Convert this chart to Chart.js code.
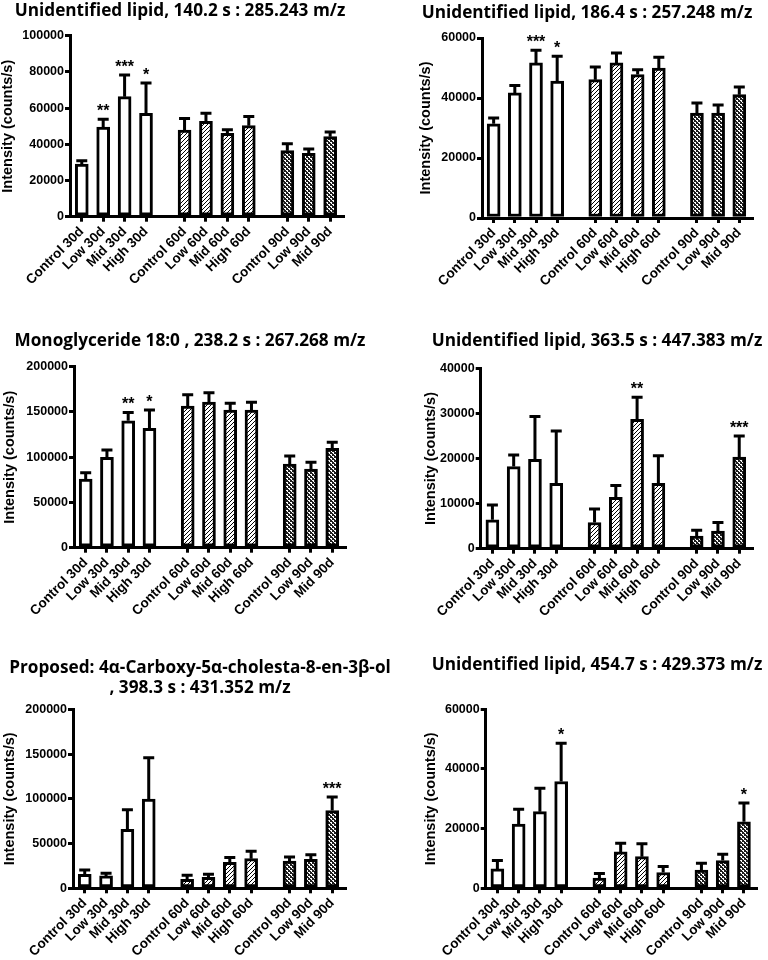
<!DOCTYPE html>
<html>
<head>
<meta charset="utf-8">
<script src="https://cdn.jsdelivr.net/npm/chart.js@4.4.0/dist/chart.umd.min.js"></script>
<style>
  html, body { margin: 0; padding: 0; background: #fff; overflow: hidden; }
  #wrap { position: relative; width: 768px; height: 960px; }
  canvas { position: absolute; }
</style>
</head>
<body>
<div id="wrap">
  <canvas id="p1"></canvas>
  <canvas id="p2"></canvas>
  <canvas id="p3"></canvas>
  <canvas id="p4"></canvas>
  <canvas id="p5"></canvas>
  <canvas id="p6"></canvas>
</div>
<script>
// groups: 30d (open), 60d (hatched), 90d (dotted)
const categories = ["Control 30d", "Low 30d", "Mid 30d", "High 30d",
  "Control 60d", "Low 60d", "Mid 60d", "High 60d",
  "Control 90d", "Low 90d", "Mid 90d"];
const groupOf = [0, 0, 0, 0, 1, 1, 1, 1, 2, 2, 2];

// panel 1
const title1 = ["Unidentified lipid, 140.2 s : 285.243 m/z"];
const yTicks1 = [0, 20000, 40000, 60000, 80000, 100000];
const mean1 = [29100, 49500, 66300, 57100, 47900, 52700, 46000, 50300, 36500, 35000, 44200];
const upper1 = [30900, 53800, 78300, 73800, 54300, 57100, 48100, 55400, 40300, 37400, 46800];
const stars1 = ["", "**", "***", "*", "", "", "", "", "", "", ""];

// panel 2
const title2 = ["Unidentified lipid, 186.4 s : 257.248 m/z"];
const yTicks2 = [0, 20000, 40000, 60000];
const mean2 = [31400, 41700, 51700, 45600, 46100, 51700, 47800, 50000, 35000, 35000, 41100];
const upper2 = [33300, 44200, 55900, 53900, 50300, 55000, 49400, 53600, 38300, 37700, 43700];
const stars2 = ["", "", "***", "*", "", "", "", "", "", "", ""];

// panel 3
const title3 = ["Monoglyceride 18:0 , 238.2 s : 267.268 m/z"];
const yTicks3 = [0, 50000, 100000, 150000, 200000];
const mean3 = [75900, 99800, 140300, 131900, 156500, 161000, 152100, 152100, 92400, 86900, 109800];
const upper3 = [82900, 107900, 149500, 152100, 169000, 171300, 159500, 160600, 101300, 94300, 116400];
const stars3 = ["", "", "**", "*", "", "", "", "", "", "", ""];

// panel 4
const title4 = ["Unidentified lipid, 363.5 s : 447.383 m/z"];
const yTicks4 = [0, 10000, 20000, 30000, 40000];
const mean4 = [6400, 18200, 19800, 14500, 5800, 11400, 28700, 14500, 2800, 3900, 20300];
const upper4 = [9700, 20800, 29300, 26100, 8800, 14000, 33600, 20600, 4100, 5800, 25000];
const stars4 = ["", "", "", "", "", "", "**", "", "", "", "***"];

// panel 5
const title5 = ["Proposed: 4\u03b1-Carboxy-5\u03b1-cholesta-8-en-3\u03b2-ol", ", 398.3 s : 431.352 m/z"];
const yTicks5 = [0, 50000, 100000, 150000, 200000];
const mean5 = [15600, 13800, 65900, 99800, 10000, 12300, 29000, 33100, 30500, 32400, 86800];
const upper5 = [20500, 16800, 87900, 146000, 14500, 15600, 34300, 41300, 35000, 37600, 102000];
const stars5 = ["", "", "", "", "", "", "", "", "", "", "***"];

// panel 6
const title6 = ["Unidentified lipid, 454.7 s : 429.373 m/z"];
const yTicks6 = [0, 20000, 40000, 60000];
const mean6 = [6500, 21500, 25700, 35800, 3400, 12200, 10600, 5300, 6100, 9300, 22300];
const upper6 = [9300, 26500, 33500, 48600, 5000, 15100, 14900, 7300, 8400, 11400, 28600];
const stars6 = ["", "", "", "*", "", "", "", "", "", "", "*"];

const GROUP_GAP = 0.8;
const X_MIN = -0.55, X_MAX = 12.2;
const Y_TITLE_SIZE = 14.5;
const xTickFont = { family: "'Liberation Sans', Arial, sans-serif", size: 13.5, weight: "bold" };
const yTickFont = { family: "'Liberation Sans', Arial, sans-serif", size: 12.5, weight: "bold" };

function xPos(i) {
  return i + groupOf[i] * GROUP_GAP;
}

function hatch(ctx) {
  const t = document.createElement("canvas");
  t.width = 4; t.height = 4;
  const g = t.getContext("2d");
  g.fillStyle = "#fff";
  g.fillRect(0, 0, 4, 4);
  g.strokeStyle = "#000";
  g.lineWidth = 1;
  g.beginPath();
  g.moveTo(-1, 5); g.lineTo(5, -1);
  g.moveTo(-1, 1); g.lineTo(1, -1);
  g.moveTo(3, 5); g.lineTo(5, 3);
  g.stroke();
  return ctx.createPattern(t, "repeat");
}

function dots(ctx) {
  const t = document.createElement("canvas");
  t.width = 4; t.height = 4;
  const g = t.getContext("2d");
  g.fillStyle = "#1e1e1e";
  g.fillRect(0, 0, 4, 4);
  g.fillStyle = "#fff";
  g.fillRect(0, 0, 2, 1);
  g.fillRect(2, 2, 2, 1);
  g.fillRect(1, 1, 1, 1);
  g.fillRect(3, 3, 1, 1);
  return ctx.createPattern(t, "repeat");
}

// title drawn at a fixed spot over each panel
const panelTitle = {
  id: "panelTitle",
  afterDraw(chart, args, opts) {
    const ctx = chart.ctx;
    ctx.save();
    ctx.font = "bold 17.2px 'Open Sans', sans-serif";
    ctx.fillStyle = "#000";
    ctx.textAlign = "center";
    ctx.textBaseline = "middle";
    opts.lines.forEach((t, k) => ctx.fillText(t, opts.x, opts.y + k * 20));
    ctx.restore();
  }
};

// upper SEM bars plus significance stars
const errorBars = {
  id: "errorBars",
  afterDatasetsDraw(chart, args, opts) {
    const ctx = chart.ctx;
    const y = chart.scales.y;
    const meta = chart.getDatasetMeta(0);
    ctx.save();
    ctx.strokeStyle = "#000";
    ctx.lineWidth = 3;
    ctx.fillStyle = "#000";
    ctx.font = "bold 16px 'Liberation Sans', Arial, sans-serif";
    ctx.textAlign = "center";
    ctx.textBaseline = "alphabetic";
    meta.data.forEach((bar, i) => {
      const top = y.getPixelForValue(opts.upper[i]);
      ctx.beginPath();
      ctx.moveTo(bar.x, bar.y);
      ctx.lineTo(bar.x, top);
      ctx.moveTo(bar.x - 5.5, top);
      ctx.lineTo(bar.x + 5.5, top);
      ctx.stroke();
      if (opts.stars[i]) ctx.fillText(opts.stars[i], bar.x, top - 3);
    });
    ctx.restore();
  }
};

function makeChart(id, lay, titleLines, means, upper, stars, yTicks) {
  const canvas = document.getElementById(id);
  canvas.width = lay.width;
  canvas.height = lay.height;
  canvas.style.left = lay.left + "px";
  canvas.style.top = lay.top + "px";
  const ctx = canvas.getContext("2d");

  const fills = [ "#fff", hatch(ctx), dots(ctx) ];
  const yScaleLeft = lay.yTitleX - Y_TITLE_SIZE / 2;

  new Chart(ctx, {
    type: "bar",
    data: {
      datasets: [
        {
          data: means.map((v, i) => ({ x: xPos(i), y: v })),
          backgroundColor: groupOf.map((g) => fills[g]),
          borderColor: "#000",
          borderWidth: 3,
          borderSkipped: false,
          barThickness: 13,
        },
      ],
    },
    options: {
      responsive: false,
      animation: false,
      events: [],
      layout: {
        padding: {
          left: yScaleLeft - lay.left,
          right: lay.left + lay.width - lay.axisEnd,
          top: lay.topY - lay.top,
          bottom: 0,
        },
      },
      plugins: {
        legend: { display: false },
        tooltip: { enabled: false },
        panelTitle: { lines: titleLines, x: lay.titleX - lay.left, y: lay.titleY - lay.top },
        errorBars: { upper: upper, stars: stars },
      },
      scales: {
        x: {
          type: "linear",
          min: X_MIN,
          max: X_MAX,
          bounds: "data",
          offset: false,
          afterBuildTicks: (s) => {
            s.ticks = categories.map((c, i) => ({ value: xPos(i) }));
          },
          afterFit: (s) => {
            s.height = lay.top + lay.height - lay.zeroY;
          },
          ticks: {
            autoSkip: false,
            minRotation: 45,
            maxRotation: 45,
            padding: 2,
            color: "#000",
            font: xTickFont,
            callback: (v, i) => categories[i],
          },
          grid: { drawOnChartArea: false, drawTicks: true, tickLength: 5, color: "#000", lineWidth: 3, offset: false },
          border: { display: true, color: "#000", width: 3 },
        },
        y: {
          min: yTicks[0],
          max: yTicks[yTicks.length - 1],
          afterFit: (s) => {
            s.width = lay.axisX - yScaleLeft;
          },
          ticks: {
            stepSize: yTicks[1] - yTicks[0],
            padding: 1,
            color: "#000",
            font: yTickFont,
            callback: (v) => String(v),
          },
          grid: { drawOnChartArea: false, drawTicks: true, tickLength: 5, color: "#000", lineWidth: 3 },
          border: { display: true, color: "#000", width: 3 },
          title: {
            display: true,
            text: "Intensity (counts/s)",
            color: "#000",
            padding: 0,
            font: { family: "'Liberation Sans', Arial, sans-serif", size: Y_TITLE_SIZE, weight: "bold", lineHeight: 1 },
          },
        },
      },
    },
    plugins: [panelTitle, errorBars],
  });
}

makeChart("p1", { left: 0, top: 0, width: 384, height: 320, titleX: 180, titleY: 11, yTitleX: 8, axisX: 70, axisEnd: 343, topY: 35.7, zeroY: 216.7 },
  title1, mean1, upper1, stars1, yTicks1);
makeChart("p2", { left: 384, top: 0, width: 384, height: 320, titleX: 587, titleY: 13, yTitleX: 426, axisX: 482, axisEnd: 752, topY: 38, zeroY: 218 },
  title2, mean2, upper2, stars2, yTicks2);
makeChart("p3", { left: 0, top: 320, width: 384, height: 320, titleX: 190, titleY: 341, yTitleX: 10, axisX: 74, axisEnd: 345, topY: 366.7, zeroY: 547.7 },
  title3, mean3, upper3, stars3, yTicks3);
makeChart("p4", { left: 384, top: 320, width: 384, height: 320, titleX: 597, titleY: 341, yTitleX: 430.7, axisX: 480.7, axisEnd: 752, topY: 368.3, zeroY: 548.7 },
  title4, mean4, upper4, stars4, yTicks4);
makeChart("p5", { left: 0, top: 640, width: 420, height: 320, titleX: 200, titleY: 668, yTitleX: 10, axisX: 73, axisEnd: 345, topY: 709.3, zeroY: 888.3 },
  title5, mean5, upper5, stars5, yTicks5);
makeChart("p6", { left: 384, top: 640, width: 384, height: 320, titleX: 597, titleY: 665, yTitleX: 430.7, axisX: 485.7, axisEnd: 756.7, topY: 709.3, zeroY: 888.3 },
  title6, mean6, upper6, stars6, yTicks6);
</script>
</body>
</html>
